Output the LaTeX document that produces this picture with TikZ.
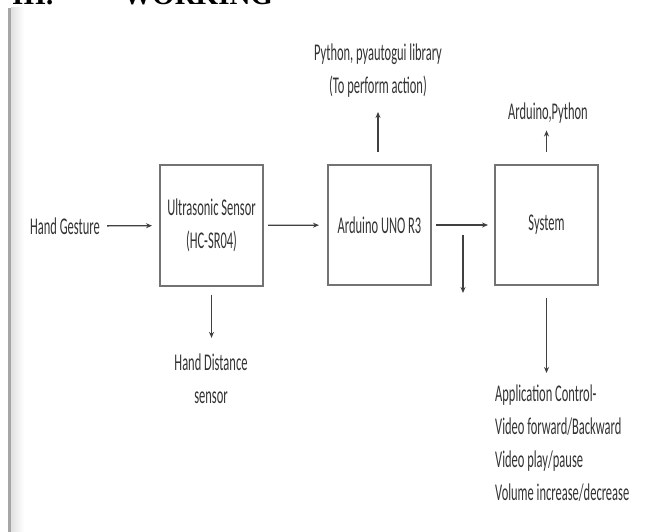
\documentclass[tikz,border=0pt]{standalone}
\usepackage{fontspec}
\setmainfont{Carlito}[FakeStretch=0.52]
\newfontfamily\headfont{Liberation Serif}
\usetikzlibrary{arrows.meta,positioning}
\tikzset{
    block/.style={rectangle,draw=black!55,line width=2pt,minimum width=103pt,minimum height=120pt,inner sep=0,
        text=black!80,font=\fontsize{24}{33}\selectfont,align=center},
    note/.style={text=black!80,font=\fontsize{24}{33}\selectfont,inner sep=1pt},
    flow/.style={draw=black!75,line width=1.3pt,-{Stealth[length=6pt,width=5pt]}},
    heading/.style={font=\headfont\bfseries\fontsize{29}{33}\selectfont,anchor=base west,inner sep=0}
}

\begin{document}
\begin{tikzpicture}[x=1pt,y=-1pt]
    \useasboundingbox (0,0) rectangle (646,532);
    \shade[left color=black!12,right color=white] (11,8) rectangle (24,532);
    \draw[black!35,line width=3pt] (9,8) -- (9,532);
    \node[heading] (num) at (12,5) {III.};
    \node[heading] (title) at (123,5) {WORKING};

    % blocks
    \node[block] (sensor) at (211.5,225.5) {Ultrasonic Sensor\\(HC-SR04)};
    \node[block] (arduino) at (379.5,225) {Arduino UNO R3};
    \node[block] (system) at (546.5,225) {System};

    % texts
    \node[note] (gesture) at (65,226) {Hand Gesture};
    \node[note,align=center] (dist) at (211,379) {Hand Distance\\sensor};
    \node[note,align=center] (lib) at (378,71) {Python, pyautogui library\\(To perform action)};
    \node[note] (lang) at (548,113) {Arduino,Python};
    \node[note,align=left,anchor=north west] (apps) at (494,384)
        {Application Control-\\Video forward/Backward\\Video play/pause\\Volume increase/decrease};
    \coordinate (split) at (463,235);
    \coordinate (drop) at (463,293);

    % arrows
    \draw[flow,shorten <=6pt,shorten >=7pt] (gesture) -- (sensor);
    \draw[flow,shorten <=4pt,shorten >=8pt] (sensor) -- (arduino);
    \draw[flow,shorten <=4pt,shorten >=6pt] (arduino) -- (system);
    \draw[flow] (split) -- (drop);
    \draw[flow,shorten <=8pt,shorten >=15pt] (sensor) -- (sensor |- dist.north);
    \draw[flow,shorten <=12pt,shorten >=13pt] (arduino.north -| lib) -- (lib);
    \draw[flow,shorten <=12pt,shorten >=6pt] (system) -- (system |- lang.south);
    \draw[flow,shorten <=12pt,shorten >=11pt] (system) -- (system |- apps.north);
\end{tikzpicture}
\end{document}
